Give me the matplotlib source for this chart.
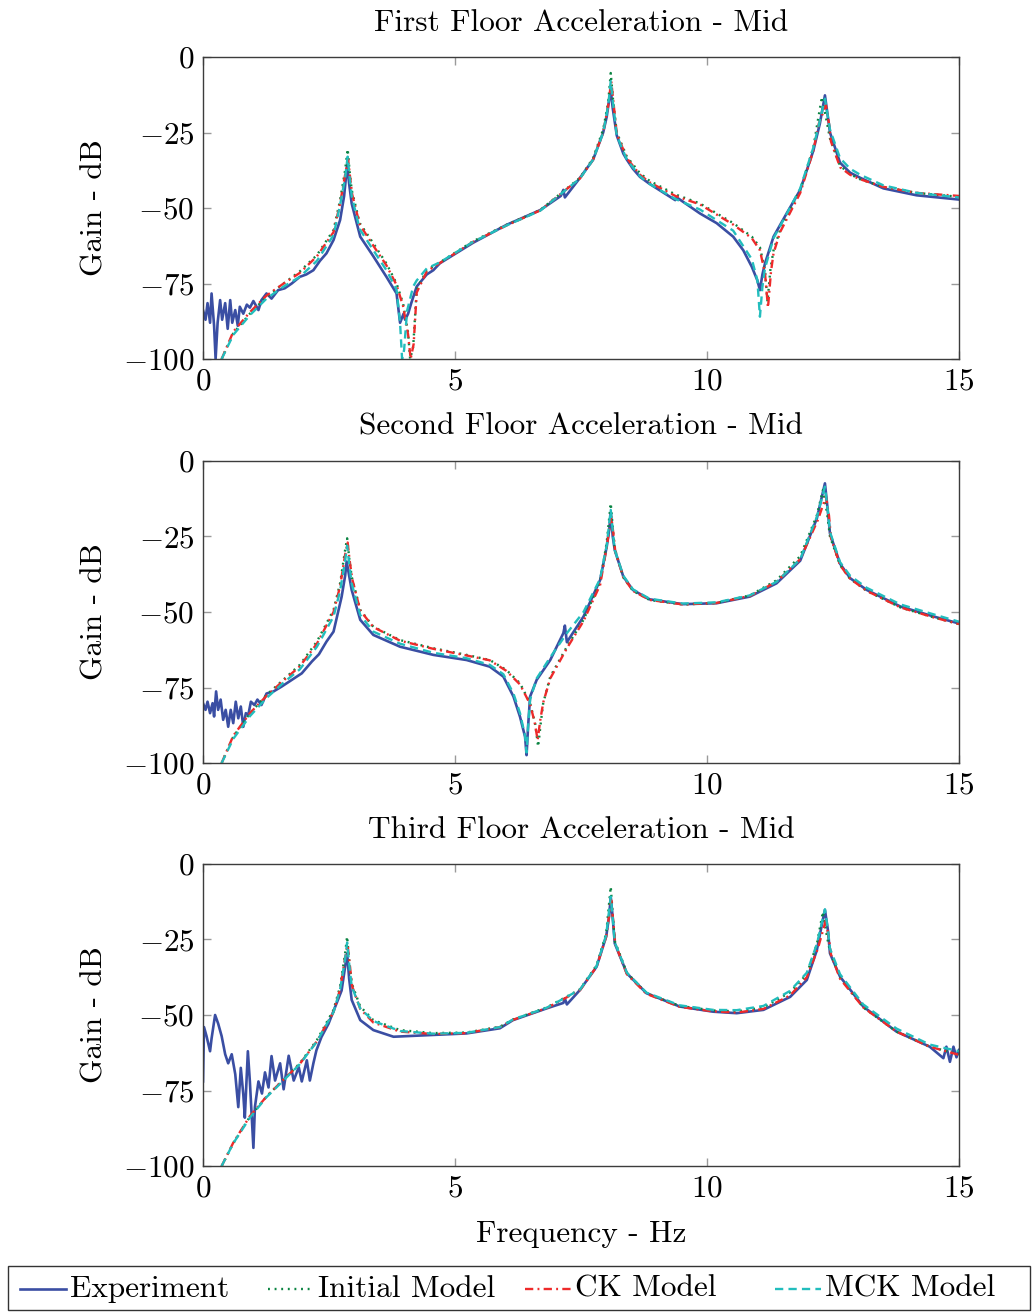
import matplotlib
matplotlib.use("Agg")
import matplotlib.pyplot as plt
from matplotlib.lines import Line2D
from matplotlib.patches import Rectangle

plt.rcParams["font.family"] = "serif"
plt.rcParams["font.serif"] = ["cmr10"]
plt.rcParams["mathtext.fontset"] = "cm"
plt.rcParams["axes.formatter.use_mathtext"] = True
plt.rcParams["axes.unicode_minus"] = False

FS = 22.5

# --- first floor -------------------------------------------------------
exp1_f = [0.0, 0.05, 0.09, 0.14, 0.17, 0.22, 0.25, 0.29, 0.34, 0.38, 0.44, 0.49, 0.54, 0.58,
          0.64, 0.69, 0.73, 0.80, 0.87, 0.93, 1.00, 1.10, 1.16, 1.26, 1.36, 1.49, 1.62, 1.76,
          1.92, 2.05, 2.19, 2.32, 2.45, 2.59, 2.72, 2.80, 2.86, 2.90, 2.95, 3.05, 3.12, 3.38,
          3.64, 3.84, 3.91, 3.98, 4.01, 4.07, 4.13, 4.24, 4.44, 4.57, 4.70, 5.36, 6.02, 6.69,
          7.10, 7.15, 7.18, 7.48, 7.74, 7.94, 8.01, 8.06, 8.09, 8.13, 8.21, 8.34, 8.41, 8.53,
          8.67, 8.86, 9.37, 9.40, 9.86, 10.19, 10.52, 10.72, 10.89, 11.00, 11.05, 11.10, 11.15,
          11.32, 11.58, 11.85, 12.11, 12.24, 12.34, 12.40, 12.44, 12.64, 12.84, 13.04, 13.50,
          14.16, 15.0]
exp1_db = [-83.8, -87, -81.5, -88, -78.3, -89, -100, -88, -80.5, -87, -81.5, -90, -80.5, -88,
           -83.8, -89, -82.7, -85, -82, -83, -80.8, -83.8, -80.5, -78.3, -80, -77.2, -76.6, -75,
           -72.8, -72, -70.6, -67.5, -65, -60.6, -54, -46, -35.8, -42, -48.5, -55, -59.5, -66,
           -72.8, -78.3, -88, -85, -87, -85, -81.6, -76, -72, -70.6, -68.3, -61.5, -55.6, -50.7,
           -46, -44, -46.5, -40, -34, -25, -19.8, -14, -11, -17, -26, -32, -34, -37,
           -39.7, -42, -47.4, -46.5, -51.8, -55, -59.5, -64, -69.5, -74, -77.2, -72, -68.4,
           -59.5, -51.8, -44, -31, -22, -12.7, -20, -25, -35, -38.3, -40, -43.5,
           -45.8, -47.2]

init1_f = [0.37, 0.6, 0.93, 1.26, 1.6, 1.92, 2.26, 2.59, 2.72, 2.82, 2.87, 2.91, 2.95, 3.11,
           3.38, 3.64, 3.84, 3.97, 4.07, 4.11, 4.17, 4.24, 4.44, 4.70, 5.36, 6.02, 6.69, 7.48,
           7.74, 7.94, 8.04, 8.09, 8.14, 8.21, 8.41, 8.67, 8.86, 9.37, 9.86, 10.52, 10.89, 11.05,
           11.15, 11.20, 11.26, 11.32, 11.45, 11.85, 12.11, 12.20, 12.28, 12.36, 12.44, 12.64,
           12.84, 13.04, 13.50, 14.16, 15.0]
init1_db = [-100, -91.5, -85, -79.4, -75, -71, -65.6, -57.3, -47.4, -37.5, -30.5, -38, -44, -55,
            -61.7, -68.4, -75, -81.6, -91.5, -100, -96, -77, -70.6, -68, -61, -55.6, -50.7, -40,
            -33.5, -24, -15, -5.3, -15, -25, -33, -38.5, -41, -45.5, -48.5, -55, -59.5, -63,
            -70.6, -81, -70, -64, -57.3, -44, -30, -21, -13.2, -20, -27, -36,
            -38.8, -40.5, -43, -45, -46.3]

ck1_f = [0.37, 0.6, 0.93, 1.26, 1.6, 1.92, 2.26, 2.59, 2.72, 2.82, 2.88, 2.92, 2.96, 3.11,
         3.38, 3.64, 3.84, 3.97, 4.07, 4.12, 4.18, 4.24, 4.44, 4.70, 5.36, 6.02, 6.69, 7.48,
         7.74, 7.94, 8.04, 8.10, 8.15, 8.21, 8.41, 8.67, 8.86, 9.37, 9.86, 10.52, 10.89, 11.05,
         11.15, 11.21, 11.27, 11.32, 11.45, 11.85, 12.11, 12.22, 12.36, 12.42, 12.46, 12.64,
         12.84, 13.04, 13.50, 14.16, 15.0]
ck1_db = [-100, -91, -84.5, -79, -75, -71.5, -66, -58, -48.5, -39, -34, -40, -45.5, -55.5,
          -62.5, -69, -75.5, -82.5, -92, -100, -95, -78, -71, -68.2, -61.2, -55.8, -50.8, -40.2,
          -34, -25, -16, -8, -16, -25.5, -33.5, -39, -41.5, -46, -48.8, -55.5, -60, -64,
          -71.5, -83, -71, -65, -58, -45, -31, -22, -16, -22, -28, -36.5,
          -39, -40.5, -43, -45, -46]

mck1_f = [0.37, 0.6, 0.93, 1.26, 1.6, 1.92, 2.26, 2.59, 2.72, 2.82, 2.87, 2.91, 2.95, 3.11,
          3.38, 3.64, 3.84, 3.91, 3.95, 3.99, 4.05, 4.17, 4.24, 4.44, 4.70, 5.36, 6.02, 6.69,
          7.48, 7.74, 7.94, 8.04, 8.09, 8.14, 8.21, 8.41, 8.67, 8.86, 9.37, 9.86, 10.52, 10.89,
          11.00, 11.05, 11.10, 11.15, 11.32, 11.58, 11.85, 12.11, 12.24, 12.34, 12.40, 12.44,
          12.64, 12.84, 13.04, 13.50, 14.16, 15.0]
mck1_db = [-100, -92, -85.5, -80, -76, -72.8, -67.5, -59, -49, -40, -33, -40, -46, -57,
           -64, -70.6, -77, -88, -100, -97, -84, -76, -74, -70, -68, -61.2, -55.8, -50.9,
           -40.2, -34, -25, -16, -8, -16, -26, -34, -39.5, -42, -47, -50.5, -57.5, -67,
           -74, -86, -76, -70, -60, -52, -43.5, -30, -21, -13.8, -20, -24,
           -33.5, -37, -39, -42.5, -45, -46.5]

# --- second floor ------------------------------------------------------
exp2_f = [0.0, 0.05, 0.09, 0.14, 0.19, 0.22, 0.26, 0.30, 0.35, 0.40, 0.45, 0.50, 0.55, 0.60,
          0.65, 0.70, 0.75, 0.80, 0.85, 0.90, 0.95, 1.02, 1.08, 1.16, 1.26, 1.40, 1.56, 1.76,
          1.96, 2.16, 2.30, 2.45, 2.59, 2.75, 2.82, 2.85, 2.90, 2.95, 3.12, 3.38, 3.91, 4.57,
          5.23, 5.69, 5.96, 6.16, 6.29, 6.39, 6.42, 6.45, 6.49, 6.62, 6.89, 7.15, 7.18, 7.22,
          7.55, 7.88, 8.01, 8.06, 8.09, 8.13, 8.17, 8.34, 8.53, 8.86, 9.52, 10.19, 10.85, 11.38,
          11.85, 12.18, 12.34, 12.40, 12.44, 12.64, 12.84, 13.17, 13.84, 14.50, 15.0]
exp2_db = [-80.2, -82.4, -79.7, -83.5, -80.2, -84.6, -76.3, -82.4, -79, -85.7, -82.4, -88, -82.4, -86.8,
           -79.7, -85.2, -81.3, -88, -83.5, -84, -79.7, -80.8, -79, -80.8, -77, -76.3, -74.7, -72.5,
           -70.3, -66.4, -64, -59.8, -56.5, -45, -38, -33.3, -38, -42.7, -52.6, -57.6, -61.5, -64.2,
           -65.9, -68.1, -71.4, -78, -84.7, -91.3, -97.4, -88, -78, -72.5, -65.9, -57, -54.5, -60,
           -51.5, -39.4, -28.4, -22.8, -17, -25, -29.5, -38.3, -42.7, -45.8, -47.4, -47.1, -44.9, -40.5,
           -33, -19, -7.4, -17, -24, -34, -38.8, -42.7, -48.2, -51.5, -53.8]

init2_f = [0.37, 0.6, 0.93, 1.26, 1.59, 1.92, 2.26, 2.59, 2.72, 2.82, 2.86, 2.90, 2.95, 3.12,
           3.38, 3.91, 4.57, 5.23, 5.69, 6.02, 6.29, 6.49, 6.59, 6.65, 6.70, 6.75, 6.89, 7.22,
           7.55, 7.88, 8.01, 8.09, 8.14, 8.17, 8.34, 8.53, 8.86, 9.52, 10.19, 10.85, 11.38, 11.85,
           12.18, 12.30, 12.38, 12.44, 12.64, 12.84, 13.17, 13.84, 14.50, 15.0]
init2_db = [-100, -91.3, -83.6, -77.5, -72.5, -67.5, -59.8, -49.3, -40.5, -29.5, -25.6, -32, -38.3, -49.3,
            -54.9, -59.3, -62, -64.2, -65.9, -69.2, -73.6, -80.2, -86.9, -94.6, -87, -80.2, -71.4, -61.5,
            -52.6, -40, -27, -14, -24, -29, -38.5, -43, -46, -47.5, -47, -44.5, -39.5, -31.5,
            -18, -9.6, -17, -25, -34.5, -39, -43, -48.5, -51.8, -54]

ck2_f = [0.37, 0.6, 0.93, 1.26, 1.59, 1.92, 2.26, 2.59, 2.72, 2.82, 2.87, 2.91, 2.96, 3.12,
         3.38, 3.91, 4.57, 5.23, 5.69, 6.02, 6.29, 6.49, 6.58, 6.64, 6.69, 6.75, 6.89, 7.22,
         7.55, 7.88, 8.01, 8.10, 8.15, 8.18, 8.34, 8.53, 8.86, 9.52, 10.19, 10.85, 11.38, 11.85,
         12.20, 12.36, 12.42, 12.46, 12.64, 12.84, 13.17, 13.84, 14.50, 15.0]
ck2_db = [-100, -91, -83.5, -77.8, -72.8, -68, -60.5, -50, -41.5, -31, -27, -33, -39, -49.5,
          -55, -59.5, -62.2, -64.4, -66, -69.5, -74, -80.5, -86.5, -92.4, -86, -80, -72, -62,
          -53, -41, -28.5, -18.4, -25, -30, -38.5, -43, -46, -47.5, -47, -44.7, -40, -32.5,
          -19.5, -11.8, -18, -25.5, -34.5, -39, -43, -48.5, -51.8, -54]

mck2_f = [0.37, 0.6, 0.93, 1.26, 1.59, 1.92, 2.26, 2.59, 2.72, 2.82, 2.86, 2.90, 2.95, 3.12,
          3.38, 3.91, 4.57, 5.23, 5.69, 5.96, 6.16, 6.29, 6.39, 6.42, 6.45, 6.49, 6.62, 6.89,
          7.22, 7.55, 7.88, 8.01, 8.09, 8.14, 8.17, 8.34, 8.53, 8.86, 9.52, 10.19, 10.85, 11.38,
          11.85, 12.18, 12.34, 12.40, 12.44, 12.64, 12.84, 13.17, 13.84, 14.50, 15.0]
mck2_db = [-100, -92, -84.5, -78.5, -73.5, -69, -61.5, -51.5, -43, -33, -28, -34, -40.5, -51,
           -56.5, -60.5, -63.5, -65.3, -67.5, -70.6, -77, -83.5, -91, -96.5, -88, -79, -72, -65,
           -57, -50, -39, -28, -16.2, -25, -29.5, -38, -42.5, -45.6, -47.2, -46.8, -44.5, -40,
           -32.5, -18.5, -8.5, -17, -23.5, -33.5, -38, -42, -47.5, -50.8, -53.2]

# --- third floor -------------------------------------------------------
exp3_f = [0.0, 0.02, 0.07, 0.14, 0.17, 0.24, 0.30, 0.37, 0.44, 0.50, 0.57, 0.64, 0.70, 0.75,
          0.80, 0.83, 0.89, 0.93, 1.00, 1.03, 1.10, 1.17, 1.23, 1.30, 1.36, 1.43, 1.53, 1.60,
          1.70, 1.80, 1.90, 1.96, 2.06, 2.12, 2.19, 2.25, 2.35, 2.49, 2.62, 2.75, 2.82, 2.86,
          2.90, 2.95, 3.12, 3.38, 3.78, 4.57, 5.23, 5.89, 6.15, 6.82, 7.15, 7.18, 7.22, 7.48,
          7.81, 8.00, 8.06, 8.09, 8.13, 8.17, 8.41, 8.80, 9.46, 10.12, 10.59, 11.12, 11.65, 11.98,
          12.18, 12.28, 12.34, 12.40, 12.44, 12.64, 13.10, 13.76, 14.42, 14.69, 14.75, 14.82, 14.89,
          14.95, 15.0]
exp3_db = [-72, -54, -57, -62, -57.8, -50, -52.8, -57, -63, -66, -63, -69.6, -80.5, -67.5,
           -76.4, -84, -62, -72, -94, -80.5, -72, -76, -69, -74, -63.6, -71.7, -66, -74.6,
           -63.5, -71.7, -67.3, -72, -65, -71.7, -66, -61.7, -57.3, -52.9, -47.4, -41.9, -34, -29.6,
           -38, -45, -51.7, -55, -57.2, -56.6, -56.1, -54.4, -51.7, -47.8, -46, -44.5, -46.5, -41.7,
           -34, -24, -17, -10.8, -18, -26.3, -36.2, -42.8, -47.2, -48.9, -49.4, -48.3, -44, -38.4,
           -28.5, -20, -15.2, -22, -29.6, -37.3, -47.2, -55.5, -60.5, -64.3, -60.5, -65.5, -60.5,
           -64, -61.6]

init3_f = [0.37, 0.6, 0.93, 1.26, 1.59, 1.92, 2.26, 2.59, 2.72, 2.82, 2.86, 2.90, 2.95, 3.12,
           3.38, 3.91, 4.57, 5.23, 5.89, 6.15, 6.82, 7.48, 7.81, 8.00, 8.09, 8.13, 8.17, 8.41,
           8.80, 9.46, 10.12, 10.59, 11.12, 11.65, 11.98, 12.18, 12.30, 12.38, 12.44, 12.64, 13.10,
           13.76, 14.42, 15.0]
init3_db = [-100, -92.5, -83.7, -77, -71.5, -66, -58.3, -48.3, -40.6, -29.6, -24, -32, -39.5, -47.2,
            -51.7, -55, -56, -55.8, -53.9, -51.5, -47.5, -41.5, -33.5, -23, -7.5, -17, -25.5, -36,
            -42.8, -47, -48.5, -48.8, -47.5, -42.5, -36.5, -26.5, -15.8, -24, -29, -37.5, -47.5,
            -55.5, -60.5, -63]

ck3_f = [0.37, 0.6, 0.93, 1.26, 1.59, 1.92, 2.26, 2.59, 2.72, 2.82, 2.87, 2.91, 2.96, 3.12,
         3.38, 3.91, 4.57, 5.23, 5.89, 6.15, 6.82, 7.48, 7.81, 8.00, 8.10, 8.14, 8.18, 8.41,
         8.80, 9.46, 10.12, 10.59, 11.12, 11.65, 11.98, 12.20, 12.36, 12.42, 12.46, 12.64, 13.10,
         13.76, 14.42, 15.0]
ck3_db = [-100, -92.3, -83.5, -77, -71.5, -66.2, -58.7, -49, -41.5, -31, -27, -33, -40.5, -48,
          -52.5, -55.5, -56.3, -56, -54, -51.6, -47.7, -41.8, -34, -24, -12, -19, -26.5, -36.5,
          -43, -47.3, -48.8, -49.2, -48, -43.5, -37.5, -28, -18.5, -25, -30, -38, -47.5,
          -55.5, -60.5, -63.2]

mck3_f = [0.37, 0.6, 0.93, 1.26, 1.59, 1.92, 2.26, 2.59, 2.72, 2.82, 2.86, 2.90, 2.95, 3.12,
          3.38, 3.91, 4.57, 5.23, 5.89, 6.15, 6.82, 7.48, 7.81, 8.00, 8.09, 8.13, 8.17, 8.41,
          8.80, 9.46, 10.12, 10.59, 11.12, 11.65, 11.98, 12.18, 12.34, 12.40, 12.44, 12.64, 13.10,
          13.76, 14.42, 15.0]
mck3_db = [-100, -92.5, -84, -77.2, -71.8, -66.3, -58.8, -49, -41.5, -31.5, -26, -33, -40.5, -47.8,
           -52, -55.3, -56.2, -55.9, -54, -51.5, -47.6, -41.6, -33.8, -23.5, -10.8, -18, -26, -36,
           -42.6, -46.8, -48.3, -48.4, -47, -42, -36, -26.5, -15, -22, -28, -36.5, -46.5,
           -54.5, -59.8, -62]

titles = ["First Floor Acceleration - Mid",
          "Second Floor Acceleration - Mid",
          "Third Floor Acceleration - Mid"]
series_names = ["Experiment", "Initial Model", "CK Model", "MCK Model"]
panels = [
    [(exp1_f, exp1_db), (init1_f, init1_db), (ck1_f, ck1_db), (mck1_f, mck1_db)],
    [(exp2_f, exp2_db), (init2_f, init2_db), (ck2_f, ck2_db), (mck2_f, mck2_db)],
    [(exp3_f, exp3_db), (init3_f, init3_db), (ck3_f, ck3_db), (mck3_f, mck3_db)],
]
x_ticks = [0, 5, 10, 15]
y_ticks = [0, -25, -50, -75, -100]

styles = [
    dict(color="#3a4ea3", lw=1.9, ls="-"),
    dict(color="#0b8442", lw=1.7, ls=(0, (0.8, 2.0))),
    dict(color="#ee2a2a", lw=1.7, ls=(0, (3.5, 1.8, 0.8, 1.8))),
    dict(color="#22bdbd", lw=1.7, ls=(0, (3.5, 2.2))),
]

W, H = 1033, 1312
fig = plt.figure(figsize=(W / 100, H / 100), dpi=100)
left, width = 203 / W, 756 / W
tops = [57, 461, 864]
height_px = 302

for i, (top, data) in enumerate(zip(tops, panels)):
    ax = fig.add_axes([left, 1 - (top + height_px) / H, width, height_px / H])
    for (f, db), st in zip(data, styles):
        ax.plot(f, db, **st)
    ax.set_xlim(0, 15)
    ax.set_ylim(-100, 0)
    ax.set_xticks(x_ticks, [f"${t}$" for t in x_ticks])
    ax.set_yticks(y_ticks, [f"${t}$" for t in y_ticks])
    ax.tick_params(direction="in", length=6, width=1, color="#9a9a9a",
                   top=True, right=True, labelsize=FS, pad=6)
    for sp in ax.spines.values():
        sp.set_color("#3c3c3c")
        sp.set_linewidth(1.0)
    ax.set_title(titles[i], fontsize=FS, pad=19)
    ax.set_ylabel("Gain - dB", fontsize=FS, labelpad=10)
    if i == 2:
        ax.set_xlabel("Frequency - Hz", fontsize=FS, labelpad=13)

# legend box with fixed-width columns
fig.add_artist(Rectangle((8 / W, 1 - 1310 / H), 1022 / W, 44 / H, transform=fig.transFigure,
                         facecolor="white", edgecolor="#333333", lw=1.0))
col_x = [20, 268, 525, 775]
y_leg = 1 - 1289 / H
for x0, name, st in zip(col_x, series_names, styles):
    fig.add_artist(Line2D([x0 / W, (x0 + 46) / W], [y_leg, y_leg],
                          transform=fig.transFigure, **st))
    fig.text((x0 + 50) / W, y_leg, name, fontsize=FS, va="center", ha="left")

fig.savefig("out.png", dpi=100)
